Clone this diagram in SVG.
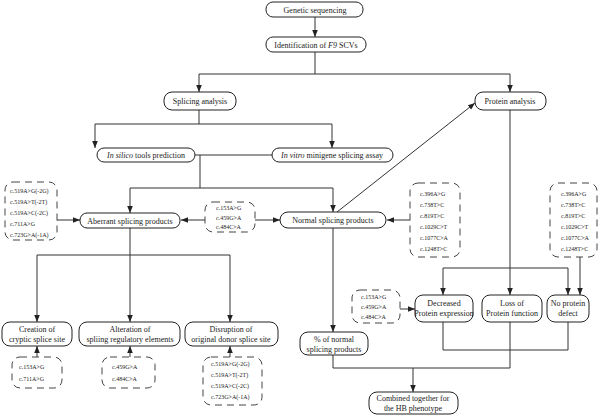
<svg xmlns="http://www.w3.org/2000/svg" width="600" height="420" viewBox="0 0 600 420">
<style>
.n{fill:#fff;stroke:#222;stroke-width:1}
.d{fill:#fff;stroke:#444;stroke-width:1;stroke-dasharray:7,5}
text{font-family:"Liberation Serif",serif;fill:#222}
.t{font-size:8px;text-anchor:middle}
.s{font-size:6px}
.c path,.c line{stroke:#333;stroke-width:1;fill:none}
</style>
<defs><marker id="a" viewBox="0 0 10 10" refX="10" refY="5" markerWidth="7" markerHeight="7" orient="auto"><path d="M0,1L10,5L0,9z" fill="#222"/></marker></defs>
<rect width="600" height="420" fill="#fff"/>
<g class="c">
<path d="M315,16V37" marker-end="url(#a)"/>
<path d="M315,52V74M199,74H510"/>
<path d="M199,74V92" marker-end="url(#a)"/><path d="M510,74V92" marker-end="url(#a)"/>
<path d="M199,110V124M95,124H332"/>
<path d="M95,124V148" marker-end="url(#a)"/><path d="M332,124V148" marker-end="url(#a)"/>
<path d="M195,155H272M200,155V188M130,188H333"/>
<path d="M130,188V213" marker-end="url(#a)"/><path d="M333,188V212" marker-end="url(#a)"/>
<path d="M337,212L475,103" marker-end="url(#a)"/>
<path d="M57,220H80" marker-end="url(#a)"/>
<path d="M205,220H181" marker-end="url(#a)"/>
<path d="M255,220H280" marker-end="url(#a)"/>
<path d="M410,220H387" marker-end="url(#a)"/>
<path d="M130,228V255M37,255H230"/>
<path d="M37,255V322" marker-end="url(#a)"/><path d="M130,255V322" marker-end="url(#a)"/><path d="M230,255V322" marker-end="url(#a)"/>
<path d="M37,357V346" marker-end="url(#a)"/><path d="M130,357V346" marker-end="url(#a)"/><path d="M230,357V346" marker-end="url(#a)"/>
<path d="M510,110V295" marker-end="url(#a)"/>
<path d="M443,268H568"/>
<path d="M443,268V295" marker-end="url(#a)"/><path d="M568,268V295" marker-end="url(#a)"/>
<path d="M580,257V295" marker-end="url(#a)"/>
<path d="M400,309H415" marker-end="url(#a)"/>
<path d="M443,322V350H568V322"/>
<path d="M333,228V332" marker-end="url(#a)"/>
<path d="M333,355V368H510V322"/>
<path d="M413,368V392" marker-end="url(#a)"/>
</g>
<g id="gen"><rect class="n" x="266" y="2" width="97" height="15" rx="7"/><text class="t" x="315" y="12.5">Genetic sequencing</text></g>
<g id="ident"><rect class="n" x="266" y="37" width="100" height="15" rx="7"/><text class="t" x="316" y="47.5">Identification of <tspan font-style="italic">F9</tspan> SCVs</text></g>
<g id="splice"><rect class="n" x="164" y="92" width="72" height="18" rx="8"/><text class="t" x="200" y="104">Splicing analysis</text></g>
<g id="protein"><rect class="n" x="475" y="92" width="71" height="18" rx="8"/><text class="t" x="510" y="104">Protein analysis</text></g>
<g id="silico"><rect class="n" x="97" y="148" width="98" height="14" rx="7"/><text class="t" x="146" y="158"><tspan font-style="italic">In silico</tspan> tools prediction</text></g>
<g id="vitro"><rect class="n" x="272" y="148" width="121" height="14" rx="7"/><text class="t" x="332" y="158"><tspan font-style="italic">In vitro</tspan> minigene splicing assay</text></g>
<g id="aberrant"><rect class="n" x="80" y="213" width="100" height="15" rx="7"/><text class="t" x="130" y="223.5">Aberrant splicing products</text></g>
<g id="normal"><rect class="n" x="280" y="212" width="106" height="16" rx="8"/><text class="t" x="333" y="223">Normal splicing products</text></g>
<g id="dl"><rect class="d" x="5" y="182" width="52" height="58" rx="8"/><text class="s"><tspan x="10" y="193">c.519A&gt;G(-2G)</tspan><tspan x="10" y="204">c.519A&gt;T(-2T)</tspan><tspan x="10" y="215">c.519A&gt;C(-2C)</tspan><tspan x="10" y="226">c.711A&gt;G</tspan><tspan x="10" y="237">c.723G&gt;A(-1A)</tspan></text></g>
<g id="dm"><rect class="d" x="205" y="202" width="50" height="30" rx="8"/><text class="s"><tspan x="216" y="210">c.153A&gt;G</tspan><tspan x="216" y="219.5">c.459G&gt;A</tspan><tspan x="216" y="229">c.484C&gt;A</tspan></text></g>
<g id="dr1"><rect class="d" x="410" y="183" width="50" height="74" rx="8"/><text class="s"><tspan x="420" y="196">c.396A&gt;G</tspan><tspan x="420" y="207">c.738T&gt;C</tspan><tspan x="420" y="218">c.819T&gt;C</tspan><tspan x="420" y="229">c.1029C&gt;T</tspan><tspan x="420" y="240">c.1077C&gt;A</tspan><tspan x="420" y="251">c.1248T&gt;C</tspan></text></g>
<g id="dr2"><rect class="d" x="550" y="183" width="47" height="74" rx="8"/><text class="s"><tspan x="561" y="196">c.396A&gt;G</tspan><tspan x="561" y="207">c.738T&gt;C</tspan><tspan x="561" y="218">c.819T&gt;C</tspan><tspan x="561" y="229">c.1029C&gt;T</tspan><tspan x="561" y="240">c.1077C&gt;A</tspan><tspan x="561" y="251">c.1248T&gt;C</tspan></text></g>
<g id="creation"><rect class="n" x="2" y="322" width="70" height="24" rx="8"/><text class="t"><tspan x="37" y="332">Creation of</tspan><tspan x="37" y="342">cryptic splice site</tspan></text></g>
<g id="alteration"><rect class="n" x="79" y="322" width="101" height="24" rx="8"/><text class="t"><tspan x="130" y="332">Alteration of</tspan><tspan x="130" y="342">spliing regulatory elements</tspan></text></g>
<g id="disruption"><rect class="n" x="185" y="322" width="93" height="24" rx="8"/><text class="t"><tspan x="231" y="332">Disruption of</tspan><tspan x="231" y="342">original donor splice site</tspan></text></g>
<g id="dc"><rect class="d" x="12" y="357" width="50" height="31" rx="8"/><text class="s"><tspan x="19" y="369">c.153A&gt;G</tspan><tspan x="19" y="381">c.711A&gt;G</tspan></text></g>
<g id="da"><rect class="d" x="102" y="357" width="53" height="31" rx="8"/><text class="s"><tspan x="112" y="369">c.459G&gt;A</tspan><tspan x="112" y="381">c.484C&gt;A</tspan></text></g>
<g id="dd"><rect class="d" x="203" y="357" width="59" height="48" rx="8"/><text class="s"><tspan x="211" y="366">c.519A&gt;G(-2G)</tspan><tspan x="211" y="377">c.519A&gt;T(-2T)</tspan><tspan x="211" y="388">c.519A&gt;C(-2C)</tspan><tspan x="211" y="399">c.723G&gt;A(-1A)</tspan></text></g>
<g id="dp"><rect class="d" x="352" y="290" width="48" height="33" rx="8"/><text class="s"><tspan x="361" y="299">c.153A&gt;G</tspan><tspan x="361" y="309">c.459G&gt;A</tspan><tspan x="361" y="319">c.484C&gt;A</tspan></text></g>
<g id="decreased"><rect class="n" x="415" y="295" width="58" height="27" rx="8"/><text class="t"><tspan x="444" y="306">Decreased</tspan><tspan x="444" y="316">Protein expression</tspan></text></g>
<g id="loss"><rect class="n" x="482" y="295" width="60" height="27" rx="8"/><text class="t"><tspan x="512" y="306">Loss of</tspan><tspan x="512" y="316">Protein function</tspan></text></g>
<g id="noprot"><rect class="n" x="547" y="295" width="42" height="27" rx="8"/><text class="t"><tspan x="568" y="306">No protein</tspan><tspan x="568" y="316">defect</tspan></text></g>
<g id="pct"><rect class="n" x="300" y="332" width="68" height="23" rx="8"/><text class="t"><tspan x="334" y="342">% of normal</tspan><tspan x="334" y="352">splicing products</tspan></text></g>
<g id="combined"><rect class="n" x="369" y="392" width="89" height="22" rx="8"/><text class="t"><tspan x="413" y="401">Combined together for</tspan><tspan x="413" y="411">the HB phenotype</tspan></text></g>
</svg>
